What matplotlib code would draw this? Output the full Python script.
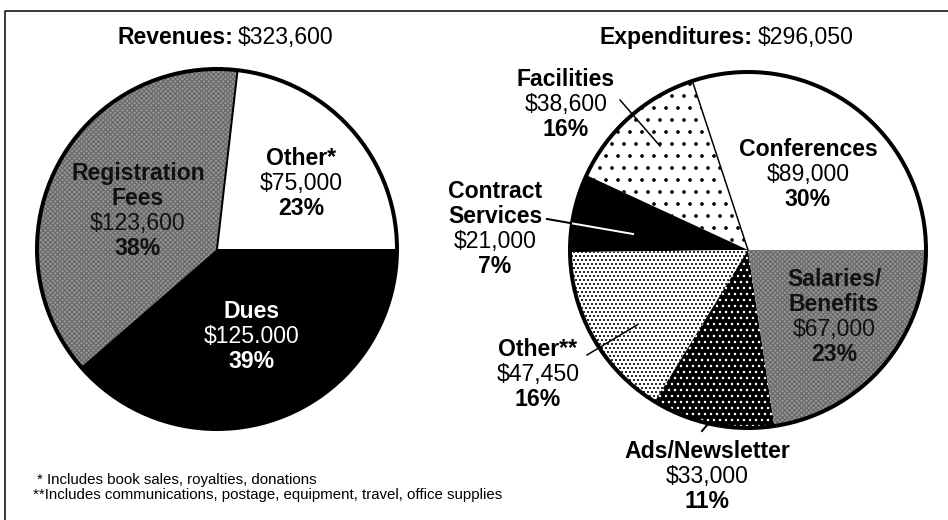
import numpy as np
import matplotlib
matplotlib.use('Agg')
import matplotlib.pyplot as plt
from matplotlib.patches import Circle

# ---- data ----
rev_names = ['Other*', 'Registration\nFees', 'Dues']
rev_values = [75000, 123600, 125000]
rev_amounts = ['$75,000', '$123,600', '$125.000']
rev_pct = [23, 38, 39]

exp_names = ['Conferences', 'Facilities', 'Contract\nServices', 'Other**',
             'Ads/Newsletter', 'Salaries/\nBenefits']
exp_values = [89000, 38600, 21000, 47450, 33000, 67000]
exp_amounts = ['$89,000', '$38,600', '$21,000', '$47,450', '$33,000', '$67,000']
exp_pct = [30, 16, 7, 16, 11, 23]

notes = ['* Includes book sales, royalties, donations',
         '**Includes communications, postage, equipment, travel, office supplies']

# ---- layout (pixel space, y down) ----
W, H = 948, 520
FONT = ['Liberation Sans Narrow', 'Liberation Sans', 'DejaVu Sans']
BIG = 23
plt.rcParams['hatch.linewidth'] = 1.25

rev_center, rev_r = (217, 249), 180
exp_center, exp_r = (748, 250), 178

rev_faces = ['white', '#969696', 'black']
rev_hatch = [None, 'xxxxx', None]
rev_hcol = [None, '#6a6a6a', None]
rev_txt = ['black', '#111111', 'white']
rev_pos = [(301, 157), (138, 172), (252, 310)]

exp_faces = ['white', 'white', 'black', 'white', 'black', '#969696']
exp_hatch = [None, '.', None, '...', '..', 'xxxxx']
exp_hcol = [None, 'black', None, 'black', 'white', '#6a6a6a']
exp_txt = ['black', 'black', 'black', 'black', 'black', '#111111']
exp_pos = [(808, 148), (566, 78), (495, 190), (538, 348), (707, 450), (834, 278)]

fig = plt.figure(figsize=(W / 72, H / 72), dpi=72)
ax = fig.add_axes([0, 0, 1, 1])


def draw_pie(values, center, r, faces, hatches, hcols):
    wedges, _ = ax.pie(values, center=center, radius=r, startangle=0,
                       counterclock=False, colors=faces, frame=True,
                       wedgeprops=dict(linewidth=0))
    for w, h, hc in zip(wedges, hatches, hcols):
        if h:
            w.set_hatch(h)
            w.set_edgecolor(hc)
            w.set_linewidth(0)
    ax.add_patch(Circle(center, r, fill=False, ec='black', lw=4, zorder=5))
    return wedges


def separator(center, r, theta, lw):
    t = np.deg2rad(theta)
    ax.plot([center[0], center[0] + r * np.cos(t)],
            [center[1], center[1] + r * np.sin(t)], color='black', lw=lw, zorder=4)


def label(pos, name, amount, pct, color, lh=25):
    lines = name.split('\n') + [amount, f'{pct}%']
    weights = ['bold'] * (len(lines) - 2) + ['normal', 'bold']
    x, y = pos
    for i, (t, wt) in enumerate(zip(lines, weights)):
        ax.text(x, y + i * lh + 8, t, ha='center', va='baseline', fontsize=BIG,
                fontweight=wt, fontstretch='condensed', color=color,
                family=FONT, zorder=6)


rw = draw_pie(rev_values, rev_center, rev_r, rev_faces, rev_hatch, rev_hcol)
separator(rev_center, rev_r, rw[0].theta1, 2)
ew = draw_pie(exp_values, exp_center, exp_r, exp_faces, exp_hatch, exp_hcol)
separator(exp_center, exp_r, ew[0].theta1, 1.5)

for i in range(len(rev_names)):
    label(rev_pos[i], rev_names[i], rev_amounts[i], rev_pct[i], rev_txt[i])
for i in range(len(exp_names)):
    label(exp_pos[i], exp_names[i], exp_amounts[i], exp_pct[i], exp_txt[i])

# leader lines
ax.plot([620, 660], [100, 146], color='black', lw=1.5, zorder=6)
ax.plot([547, 633], [219, 234], color='black', lw=2, zorder=6)
wl, = ax.plot([547, 633], [219, 234], color='white', lw=2, zorder=6)
wl.set_clip_path(ew[2])
ax.plot([587, 637], [355, 325], color='black', lw=1.5, zorder=6)
ax.plot([702, 708], [431, 424], color='black', lw=2, zorder=6)

# titles
for xr, head, vals in [(233, 'Revenues:', rev_values), (753, 'Expenditures:', exp_values)]:
    ax.text(xr, 44, head, ha='right', va='baseline', fontsize=BIG,
            fontweight='bold', fontstretch='condensed', family=FONT)
    ax.text(xr + 5, 44, f'${sum(vals):,}', ha='left', va='baseline',
            fontsize=BIG, fontstretch='condensed', family=FONT)

# footnotes
ax.text(37, 484, notes[0], ha='left', va='baseline', fontsize=15,
        fontstretch='condensed', family=FONT)
ax.text(33, 499, notes[1], ha='left', va='baseline', fontsize=15,
        fontstretch='condensed', family=FONT)

# frame
ax.plot([5, 5, W], [H, 11, 11], color='black', lw=1.5)

ax.set_xlim(0, W)
ax.set_ylim(H, 0)
ax.set_aspect('equal')
ax.axis('off')
fig.savefig('out.png', dpi=72)
